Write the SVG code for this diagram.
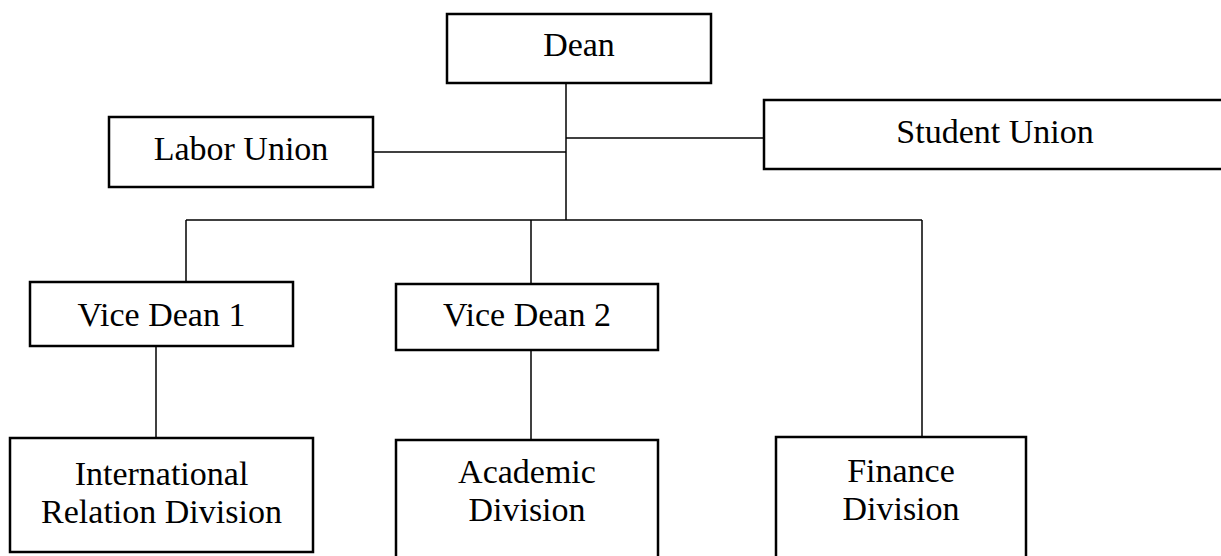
<svg xmlns="http://www.w3.org/2000/svg" width="1221" height="556" viewBox="0 0 1221 556">
<style>
.box{fill:#fff;stroke:#000;stroke-width:2.5}
.lbl{font-family:"Liberation Serif","Times New Roman",serif;font-size:34px;fill:#000;text-anchor:middle}
.con{fill:none;stroke:#000;stroke-width:1.5}
</style>
<rect width="1221" height="556" fill="#fff"/>
<g id="connectors">
<line class="con" x1="566" y1="83" x2="566" y2="220"/>
<line class="con" x1="373" y1="152" x2="566" y2="152"/>
<line class="con" x1="566" y1="138" x2="764" y2="138"/>
<line class="con" x1="186" y1="220" x2="922" y2="220"/>
<line class="con" x1="186" y1="220" x2="186" y2="282"/>
<line class="con" x1="531" y1="220" x2="531" y2="284"/>
<line class="con" x1="922" y1="220" x2="922" y2="437"/>
<line class="con" x1="156" y1="346" x2="156" y2="438"/>
<line class="con" x1="531" y1="350" x2="531" y2="440"/>
</g>
<g id="dean"><rect class="box" x="447" y="14" width="264" height="69"/><text class="lbl" x="579" y="56">Dean</text></g>
<g id="labor-union"><rect class="box" x="109" y="117" width="264" height="70"/><text class="lbl" x="241" y="160">Labor Union</text></g>
<g id="student-union"><rect class="box" x="764" y="100" width="470" height="69"/><text class="lbl" x="995" y="143">Student Union</text></g>
<g id="vice-dean-1"><rect class="box" x="30" y="282" width="263" height="64"/><text class="lbl" x="161.5" y="326">Vice Dean 1</text></g>
<g id="vice-dean-2"><rect class="box" x="396" y="284" width="262" height="66"/><text class="lbl" x="527" y="326">Vice Dean 2</text></g>
<g id="international-relation-division"><rect class="box" x="10" y="438" width="303" height="114"/><text class="lbl" x="161.5" y="485">International</text><text class="lbl" x="161.5" y="523">Relation Division</text></g>
<g id="academic-division"><rect class="box" x="396" y="440" width="262" height="130"/><text class="lbl" x="527" y="483">Academic</text><text class="lbl" x="527" y="521">Division</text></g>
<g id="finance-division"><rect class="box" x="776" y="437" width="250" height="133"/><text class="lbl" x="901" y="482">Finance</text><text class="lbl" x="901" y="520">Division</text></g>
</svg>
